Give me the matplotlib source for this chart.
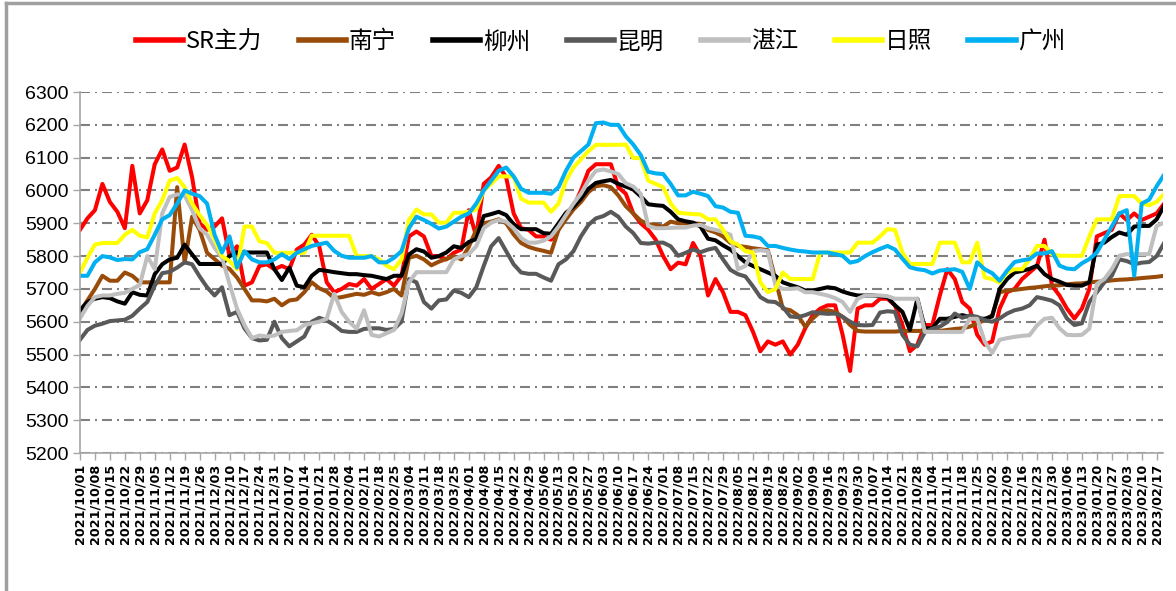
import matplotlib
matplotlib.use("Agg")
import matplotlib.pyplot as plt
import matplotlib.dates as mdates
from matplotlib.lines import Line2D
import pandas as pd

plt.rcParams['font.family'] = ['Noto Sans CJK SC', 'DejaVu Sans']

# 数据点：2021/10/01 起，每半周一个点
dates = pd.date_range('2021-10-01', periods=146, freq='84h')

sr_main = [
    5880, 5915, 5940, 6020, 5965, 5935, 5885, 6075, 5930, 5970,
    6080, 6125, 6060, 6070, 6140, 6040, 5900, 5880, 5890, 5915,
    5800, 5830, 5710, 5720, 5770, 5775, 5760, 5770, 5760, 5820,
    5835, 5865, 5830, 5720, 5690, 5700, 5715, 5710, 5730, 5700,
    5715, 5730, 5710, 5740, 5860, 5875, 5860, 5800, 5800, 5790,
    5810, 5820, 5940, 5860, 6020, 6040, 6075, 6040, 5930, 5885,
    5880, 5860, 5860, 5850, 5880, 5930, 5950, 6000, 6060, 6080,
    6080, 6080, 6010, 5990, 5930, 5900, 5880, 5850, 5800, 5760,
    5780, 5775, 5840, 5800, 5680, 5730, 5690, 5630, 5630, 5620,
    5570, 5510, 5540, 5530, 5540, 5500, 5530, 5580, 5620, 5640,
    5650, 5650, 5560, 5450, 5640, 5650, 5650, 5670, 5670, 5650,
    5590, 5510, 5530, 5590, 5590, 5680, 5760, 5730, 5660, 5640,
    5560, 5530, 5540, 5640, 5690, 5700, 5730, 5750, 5770, 5850,
    5710, 5680, 5640, 5610, 5640, 5700, 5860, 5870, 5880, 5930,
    5910, 5930, 5910, 5920, 5930, 5960,
]

nanning = [
    5630, 5665, 5700, 5740, 5725, 5725, 5750, 5740, 5720, 5720,
    5720, 5720, 5720, 6010, 5780, 5920, 5880, 5810, 5791, 5771,
    5761, 5735, 5700, 5665, 5665, 5662, 5670, 5650, 5665, 5668,
    5690, 5720, 5702, 5692, 5672, 5675, 5680, 5685, 5682, 5690,
    5683, 5690, 5700, 5680, 5795, 5801, 5790, 5772, 5783, 5791,
    5800, 5790, 5828, 5880, 5900, 5905, 5912, 5900, 5866, 5840,
    5828, 5821, 5816, 5810, 5880, 5912, 5942, 5965, 5995, 6013,
    6016, 6010, 5985, 5952, 5930, 5908, 5897, 5895, 5890, 5905,
    5900, 5900, 5900, 5898, 5880, 5872, 5860, 5840, 5831, 5828,
    5824, 5821, 5818, 5730, 5640, 5635, 5620, 5585, 5610, 5630,
    5635, 5630, 5615, 5590, 5572, 5570, 5570, 5570, 5570, 5570,
    5572, 5572, 5572, 5572, 5572, 5572, 5575, 5578, 5580, 5585,
    5595, 5605, 5620, 5690, 5695, 5697, 5700, 5703, 5705, 5708,
    5710, 5711, 5714, 5716, 5717, 5720, 5722, 5723, 5726, 5728,
    5729, 5731, 5733, 5735, 5737, 5740,
]

liuzhou = [
    5635, 5660, 5670, 5675, 5672, 5662, 5655, 5690, 5682, 5680,
    5745, 5775, 5790, 5795, 5835, 5805, 5776, 5776, 5776, 5776,
    5800, 5811, 5811, 5811, 5811, 5811, 5760, 5727, 5765, 5710,
    5705, 5740, 5758, 5755, 5751, 5748, 5745, 5745, 5742, 5740,
    5735, 5730, 5740, 5740, 5805, 5821, 5814, 5795, 5800, 5811,
    5830, 5825, 5843, 5852, 5922, 5928, 5935, 5925, 5897, 5882,
    5882, 5882, 5870, 5868, 5900, 5932, 5950, 5975, 6005, 6023,
    6028, 6032, 6020, 6012, 6003, 5982, 5958, 5955, 5953, 5935,
    5912, 5906, 5902, 5890, 5853, 5848, 5833, 5820, 5800, 5781,
    5770, 5760, 5750, 5740, 5720, 5712, 5705, 5695, 5695, 5700,
    5705, 5702, 5692, 5685, 5680, 5680, 5680, 5678, 5675, 5650,
    5630, 5575, 5670, 5580, 5580, 5609, 5609, 5615, 5620, 5615,
    5610, 5609, 5616, 5700, 5730, 5750, 5755, 5761, 5771, 5745,
    5730, 5722, 5712, 5710, 5710, 5720, 5835, 5841, 5858, 5872,
    5865, 5890, 5892, 5892, 5912, 5953,
]

kunming = [
    5545, 5575, 5588, 5594, 5602, 5604, 5606, 5618, 5640, 5660,
    5710, 5748, 5752, 5765, 5781, 5775, 5738, 5705, 5680, 5705,
    5620, 5630, 5580, 5550, 5543, 5545, 5600, 5550, 5525, 5540,
    5555, 5600, 5612, 5604, 5590, 5572, 5569, 5569, 5578, 5580,
    5580, 5575, 5578, 5600, 5730, 5720, 5660, 5640, 5665, 5668,
    5695, 5688, 5675, 5705, 5770, 5830, 5855, 5815, 5775, 5750,
    5746, 5746, 5735, 5725, 5775, 5790, 5815, 5860, 5895, 5915,
    5922, 5935, 5920, 5890, 5870, 5840, 5838, 5841, 5841, 5830,
    5801, 5810, 5820, 5812, 5820, 5825, 5790, 5758, 5745, 5738,
    5708, 5675, 5662, 5660, 5645, 5616, 5614, 5620, 5629, 5626,
    5624, 5625, 5615, 5600, 5590, 5589, 5590, 5628, 5632, 5630,
    5560, 5530, 5525, 5568, 5579, 5585, 5599, 5625, 5612, 5619,
    5615, 5605, 5600, 5610, 5625, 5635, 5640, 5650, 5675, 5670,
    5664, 5650, 5610, 5590, 5595, 5660, 5690, 5720, 5740, 5790,
    5785, 5775, 5780, 5782, 5800, 5840,
]

zhanjiang = [
    5610, 5648, 5675, 5680, 5680, 5685, 5688, 5700, 5712, 5800,
    5760, 5930, 5980, 5988, 5985, 5940, 5885, 5865, 5825, 5795,
    5715, 5640, 5590, 5550, 5558, 5555, 5558, 5569, 5572, 5574,
    5590, 5595, 5600, 5609, 5685, 5630, 5600, 5579, 5635, 5560,
    5555, 5565, 5575, 5625, 5720, 5751, 5751, 5751, 5751, 5751,
    5790, 5800, 5806, 5830, 5885, 5902, 5910, 5905, 5885, 5855,
    5841, 5841, 5847, 5860, 5890, 5925, 5960, 5990, 6030, 6060,
    6064, 6058, 6050, 6022, 6012, 5990, 5892, 5885, 5885, 5886,
    5887, 5887, 5893, 5895, 5885, 5880, 5874, 5865, 5760, 5770,
    5815, 5818, 5815, 5712, 5700, 5700, 5702, 5690, 5690, 5685,
    5680, 5672, 5660, 5630, 5670, 5680, 5680, 5680, 5678, 5670,
    5670, 5670, 5670, 5569, 5569, 5569, 5569, 5569, 5569, 5609,
    5609, 5540, 5505, 5545, 5550, 5554, 5557, 5559, 5589, 5609,
    5612, 5580, 5560, 5559, 5560, 5579, 5715, 5730, 5760, 5801,
    5806, 5806, 5806, 5806, 5892, 5902,
]

rizhao = [
    5750, 5795, 5835, 5840, 5840, 5840, 5865, 5880, 5862, 5857,
    5930, 5970, 6030, 6038, 6010, 5960, 5925, 5895, 5852, 5800,
    5785, 5760, 5890, 5890, 5845, 5840, 5810, 5810, 5810, 5810,
    5810, 5862, 5862, 5862, 5862, 5862, 5862, 5800, 5800, 5800,
    5790, 5771, 5760, 5790, 5910, 5942, 5927, 5927, 5902, 5902,
    5932, 5932, 5935, 5942, 6000, 6020, 6043, 6043, 6043, 5975,
    5963, 5963, 5963, 5935, 5960, 6030, 6070, 6095, 6120, 6139,
    6139, 6139, 6139, 6140, 6099, 6099, 6030, 6020, 6010, 5960,
    5932, 5930, 5928, 5927, 5912, 5912, 5880, 5845, 5835, 5815,
    5811, 5720, 5690, 5700, 5750, 5730, 5730, 5730, 5730, 5811,
    5811, 5811, 5811, 5811, 5841, 5841, 5841, 5860, 5882, 5880,
    5811, 5776, 5776, 5776, 5776, 5841, 5841, 5841, 5781, 5781,
    5841, 5735, 5730, 5720, 5750, 5760, 5760, 5790, 5831, 5831,
    5806, 5801, 5801, 5801, 5801, 5860, 5912, 5912, 5912, 5983,
    5983, 5983, 5960, 5955, 5965, 5990,
]

guangzhou = [
    5740, 5740, 5781, 5800, 5796, 5788, 5791, 5790, 5812, 5821,
    5865, 5912, 5925, 5960, 6000, 5990, 5983, 5960, 5865, 5811,
    5860, 5765, 5815, 5790, 5781, 5781, 5790, 5806, 5791, 5810,
    5821, 5831, 5836, 5841, 5816, 5801, 5795, 5795, 5795, 5800,
    5781, 5781, 5795, 5815, 5885, 5920, 5910, 5898, 5884, 5890,
    5905, 5920, 5930, 5960, 6000, 6030, 6060, 6070, 6043, 6005,
    5993, 5993, 5993, 5990, 6010, 6060, 6100, 6120, 6140, 6205,
    6207, 6200, 6200, 6165, 6140, 6108, 6057, 6052, 6050, 6020,
    5985, 5985, 5996, 5990, 5983, 5952, 5948, 5935, 5932, 5862,
    5860, 5855, 5831, 5831, 5825, 5820, 5816, 5814, 5811, 5811,
    5811, 5806, 5801, 5780, 5785, 5800, 5812, 5822, 5831, 5820,
    5792, 5766, 5760, 5757, 5747, 5756, 5758, 5760, 5752, 5700,
    5781, 5760, 5748, 5725, 5756, 5782, 5787, 5791, 5808, 5808,
    5815, 5771, 5762, 5760, 5778, 5791, 5811, 5850, 5890, 5930,
    5940, 5740, 5960, 5972, 6013, 6048,
]

names = ['SR主力', '南宁', '柳州', '昆明', '湛江', '日照', '广州']
series = [sr_main, nanning, liuzhou, kunming, zhanjiang, rizhao, guangzhou]
colors = ['#FF0000', '#994C0A', '#000000', '#595959', '#BFBFBF', '#FFFF00', '#00B0F0']

for s in series:
    assert len(s) == len(dates), len(s)

fig = plt.figure(figsize=(11.76, 5.91), dpi=100)
ax = fig.add_axes([0.068, 0.2335, 0.921, 0.6108])

for name, s, c in zip(names, series, colors):
    ax.plot(dates, s, color=c, lw=2.9, label=name, solid_joinstyle='round')

# 坐标轴
ax.set_ylim(5200, 6300)
ax.set_yticks(range(5200, 6301, 100))
start = pd.Timestamp('2021-10-01')
ax.set_xlim(start, start + pd.Timedelta(days=507))
ax.set_xticks(pd.date_range('2021-10-01', '2023-02-17', freq='7D'))
ax.xaxis.set_major_formatter(mdates.DateFormatter('%Y/%m/%d'))

ax.tick_params(axis='x', direction='out', length=5, width=1, color='#A6A6A6',
               labelsize=9.2, labelrotation=90, pad=3)
ax.tick_params(axis='y', direction='out', length=5, width=1, color='#A6A6A6',
               labelsize=14, pad=3)
for lab in ax.get_yticklabels():
    lab.set_family(['Liberation Sans Narrow', 'Liberation Sans'])
for lab in ax.get_xticklabels():
    lab.set_family('DejaVu Sans')
    lab.set_fontweight('bold')

for sp in ['top', 'right']:
    ax.spines[sp].set_visible(False)
for sp in ['left', 'bottom']:
    ax.spines[sp].set_color('#A6A6A6')
    ax.spines[sp].set_linewidth(1.2)

ax.set_axisbelow(True)
ax.yaxis.grid(True, color='#808080', linewidth=1.5,
              linestyle=(0, (4.8, 2.4, 0.96, 2.4)))
ax.xaxis.grid(False)

# 图例
leg = fig.legend(loc='center', bbox_to_anchor=(0.511, 0.929), ncol=7,
                 frameon=False, fontsize=17, handlelength=2.0,
                 handletextpad=0.12, columnspacing=1.55)
for ln in leg.get_lines():
    ln.set_linewidth(4)

# 外框
fig.add_artist(Line2D([0.005, 0.005], [0, 0.995], transform=fig.transFigure,
                      color='#A0A0A0', lw=2.5))
fig.add_artist(Line2D([0.005, 1], [0.995, 0.995], transform=fig.transFigure,
                      color='#A0A0A0', lw=2.5))

fig.savefig('out.png', dpi=100)
